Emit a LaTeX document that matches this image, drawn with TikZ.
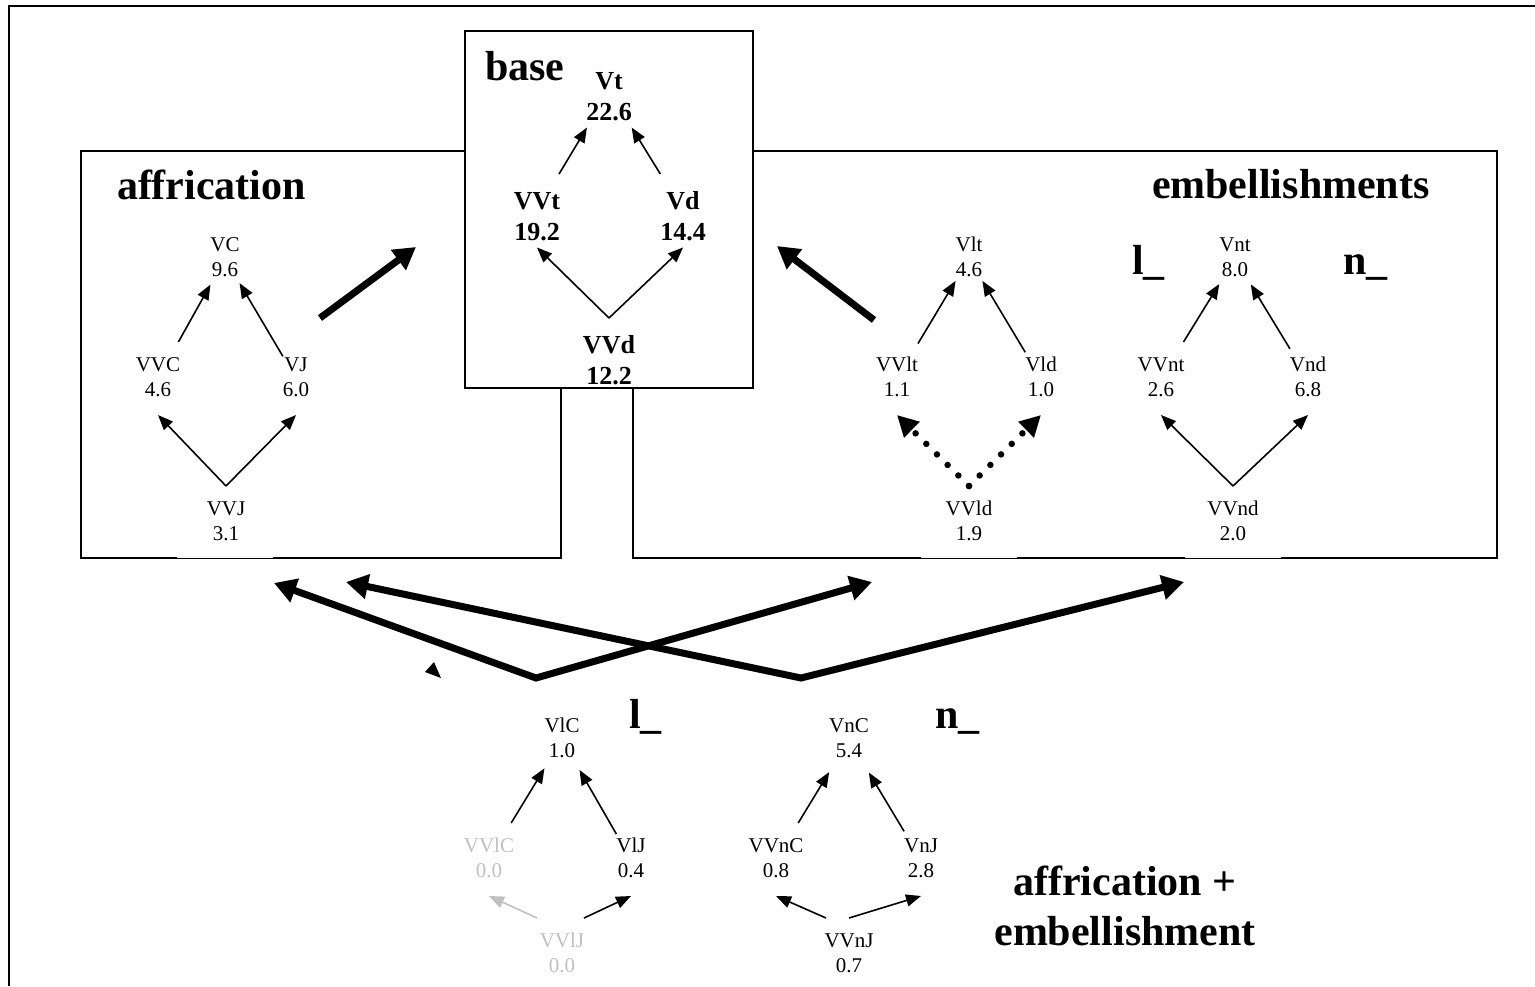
\documentclass[tikz,border=0pt]{standalone}
\usepackage{fontspec}
\setmainfont{Liberation Serif}
\usetikzlibrary{arrows.meta}
\definecolor{faint}{HTML}{C0C0C0}
% two-line value labels with struts that fix where connectors meet them
\newcommand\smlab[2]{\rule{0pt}{29pt}#1\\#2\rule[-19pt]{0pt}{19pt}}
\newcommand\bdlab[2]{\rule{0pt}{35pt}#1\\#2\rule[-7.5pt]{0pt}{7.5pt}}
\begin{document}
\begin{tikzpicture}[x=1pt,y=-1pt,
  frame/.style={line width=2pt},
  sm/.style={inner sep=0pt,outer sep=0pt,align=center,anchor=north,font=\fontsize{21}{25}\selectfont},
  bd/.style={inner sep=0pt,outer sep=0pt,align=center,anchor=north,font=\fontsize{26}{31}\selectfont\bfseries},
  title/.style={inner sep=0pt,outer sep=0pt,font=\fontsize{42}{50}\selectfont\bfseries},
  arr/.style={line width=1.6pt,-{Triangle[length=15pt,width=12pt]}},
  bighead/.tip={Triangle[length=22pt,width=24pt]},
  bigline/.style={line width=7pt},
  bigarr/.style={bigline,-bighead},
  dotarr/.style={line width=6.5pt,line cap=round,dash pattern=on 0pt off 15pt,-{Triangle[length=21pt,width=21pt]}},
]
\useasboundingbox (0,0) rectangle (1535,986);

% outer frame (open at right and bottom)
\draw[frame] (9,986) -- (9,6) -- (1535,6);

% group boxes
\draw[frame] (81,151) rectangle (561,558);
\draw[frame] (633,151) rectangle (1497,558);
% text boxes of the bottom values overlap the lower edge
\fill[white] (177,550) rectangle (273,558);
\fill[white] (921,550) rectangle (1017,558);
\fill[white] (1185,550) rectangle (1281,558);
\draw[frame,fill=white] (465,31) rectangle (753,388);

% base
\node[title,anchor=base west] (baseT) at (485,80) {base};
\node[bd] (Vt)  at (609,54)  {\bdlab{Vt}{22.6}};
\node[bd] (VVt) at (537,174) {\bdlab{VVt}{19.2}};
\node[bd] (Vd)  at (683,174) {\bdlab{Vd}{14.4}};
\node[bd] (VVd) at (609,318) {\bdlab{VVd}{12.2}};
\draw[arr] (VVt) -- (Vt);
\draw[arr] (Vd) -- (Vt);
\draw[arr] (VVd.north) -- (VVt.south);
\draw[arr] (VVd.north) -- (Vd.south);

% affrication
\node[title,anchor=base west] (affT) at (117,199) {affrication};
\node[sm] (VC)  at (225,222) {\smlab{VC}{9.6}};
\node[sm] (VVC) at (158,342) {\smlab{VVC}{4.6}};
\node[sm] (VJ)  at (296,342) {\smlab{VJ}{6.0}};
\node[sm] (VVJ) at (226,486) {\smlab{VVJ}{3.1}};
\draw[arr] (VVC) -- (VC);
\draw[arr] (VJ) -- (VC);
\draw[arr] (VVJ.north) -- (VVC.south);
\draw[arr] (VVJ.north) -- (VJ.south);
\coordinate (affS) at (320,318);
\coordinate (affE) at (416,247);
\draw[bigarr] (affS) -- (affE);

% embellishments
\node[title,anchor=base west] (embT) at (1152,198) {embellishments};
\node[title,anchor=base west] (lT) at (1132,274) {l\_};
\node[title,anchor=base west] (nT) at (1343,274) {n\_};
\node[sm] (Vlt)  at (969,222)  {\smlab{Vlt}{4.6}};
\node[sm] (VVlt) at (897,342)  {\smlab{VVlt}{1.1}};
\node[sm] (Vld)  at (1041,342) {\smlab{Vld}{1.0}};
\node[sm] (VVld) at (969,486)  {\smlab{VVld}{1.9}};
\node[sm] (Vnt)  at (1235,222) {\smlab{Vnt}{8.0}};
\node[sm] (VVnt) at (1161,342) {\smlab{VVnt}{2.6}};
\node[sm] (Vnd)  at (1308,342) {\smlab{Vnd}{6.8}};
\node[sm] (VVnd) at (1233,486) {\smlab{VVnd}{2.0}};
\draw[arr] (VVlt) -- (Vlt);
\draw[arr] (Vld) -- (Vlt);
\draw[dotarr] (VVld.north) -- (VVlt.south);
\draw[dotarr] (VVld.north) -- (Vld.south);
\draw[arr] (VVnt) -- (Vnt);
\draw[arr] (Vnd) -- (Vnt);
\draw[arr] (VVnd.north) -- (VVnt.south);
\draw[arr] (VVnd.north) -- (Vnd.south);
\coordinate (embS) at (874,320);
\coordinate (embE) at (777,246);
\draw[bigarr] (embS) -- (embE);

% affrication + embellishment
\node[title,anchor=base west] (l2T) at (629,728) {l\_};
\node[title,anchor=base west] (n2T) at (935,728) {n\_};
\node[title,align=center,anchor=north] (combT) at (1125,866) {affrication +\\embellishment};
\node[sm] (VlC)  at (562,703) {\smlab{VlC}{1.0}};
\node[sm,text=faint] (VVlC) at (489,823) {\smlab{VVlC}{0.0}};
\node[sm] (VlJ)  at (631,823) {\smlab{VlJ}{0.4}};
\node[sm,text=faint] (VVlJ) at (562,918) {\smlab{VVlJ}{0.0}};
\node[sm] (VnC)  at (849,703) {\smlab{VnC}{5.4}};
\node[sm] (VVnC) at (776,823) {\smlab{VVnC}{0.8}};
\node[sm] (VnJ)  at (921,823) {\smlab{VnJ}{2.8}};
\node[sm] (VVnJ) at (849,918) {\smlab{VVnJ}{0.7}};
\draw[arr] (VVlC) -- (VlC);
\draw[arr] (VlJ) -- (VlC);
\draw[arr,faint] ([xshift=-25pt]VVlJ.north) -- (VVlC.south);
\draw[arr] ([xshift=22pt]VVlJ.north) -- (VlJ.south);
\draw[arr] (VVnC) -- (VnC);
\draw[arr] (VnJ) -- (VnC);
\draw[arr] ([xshift=-23pt]VVnJ.north) -- (VVnC.south);
\draw[arr] (VVnJ.north) -- (VnJ.south);

% crossing arrows up into the single-process boxes
\coordinate (J1) at (536,678);
\coordinate (J2) at (801,678);
\coordinate (tA) at (274,583);
\coordinate (tB) at (872,582);
\coordinate (tC) at (346,582);
\coordinate (tD) at (1184,582);
\draw[bigline,line join=miter,bighead-bighead] (tA) -- (J1) -- (tB);
\draw[bigline,line join=miter,bighead-bighead] (tC) -- (J2) -- (tD);
\fill (425,672) -- (434,662) -- (441,678) -- cycle;
\end{tikzpicture}
\end{document}
